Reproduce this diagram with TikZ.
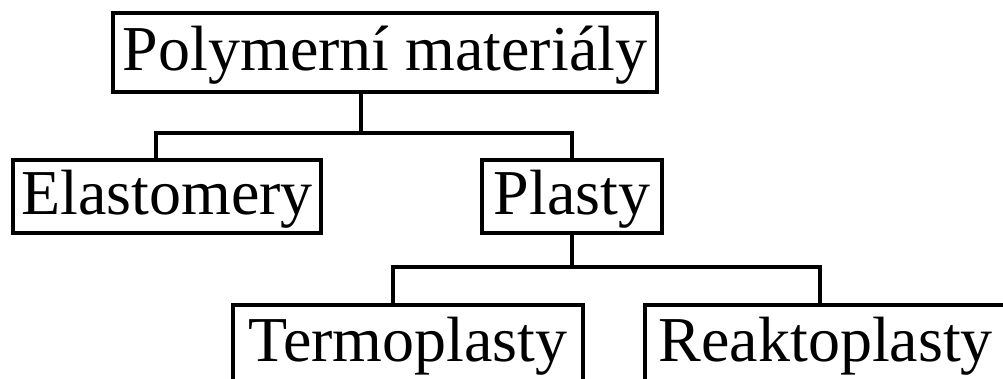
\documentclass[tikz,border=0pt]{standalone}
\usepackage{fontspec}
\setmainfont{Liberation Serif}
\usetikzlibrary{calc}

\begin{document}
\begin{tikzpicture}[x=0.025cm, y=-0.025cm,
    box/.style={draw, line width=2.5pt, inner sep=0pt, text height=1.2cm, text depth=0.3cm,
        font=\fontsize{45.5}{54}\selectfont},
    link/.style={line width=2.5pt}]
\useasboundingbox (0,0) rectangle (1003,378);
\clip (0,0) rectangle (1003,378);
% tree of polymer materials
\node[box, minimum width=13.6cm, minimum height=1.975cm] (polymer) at (385,52.5) {Polymerní materiály};
\node[box, minimum width=7.7cm, minimum height=1.825cm] (elast) at (167,196.5) {Elastomery};
\node[box, minimum width=4.5cm, minimum height=1.825cm] (plast) at (572,196.5) {Plasty};
\node[box, minimum width=8.75cm, minimum height=1.9cm] (termo) at (408,343) {Termoplasty};
\node[box, anchor=west, text width=9cm, align=left, inner xsep=0.35cm, minimum height=1.9cm] (reakto) at (643,343) {Reaktoplasty};
\coordinate (fork1) at (361,133);
\coordinate (fork2) at (572,267);
% branches
\draw[link] (polymer.south -| fork1) -- (fork1);
\draw[link] ($(elast.north)+(-11,0)$) |- (fork1) -| (plast.north);
\draw[link] (plast.south) -- (fork2);
\draw[link] ($(termo.north)+(-15,0)$) |- (fork2) -| ($(reakto.north west)+(177,0)$);
\end{tikzpicture}
\end{document}
